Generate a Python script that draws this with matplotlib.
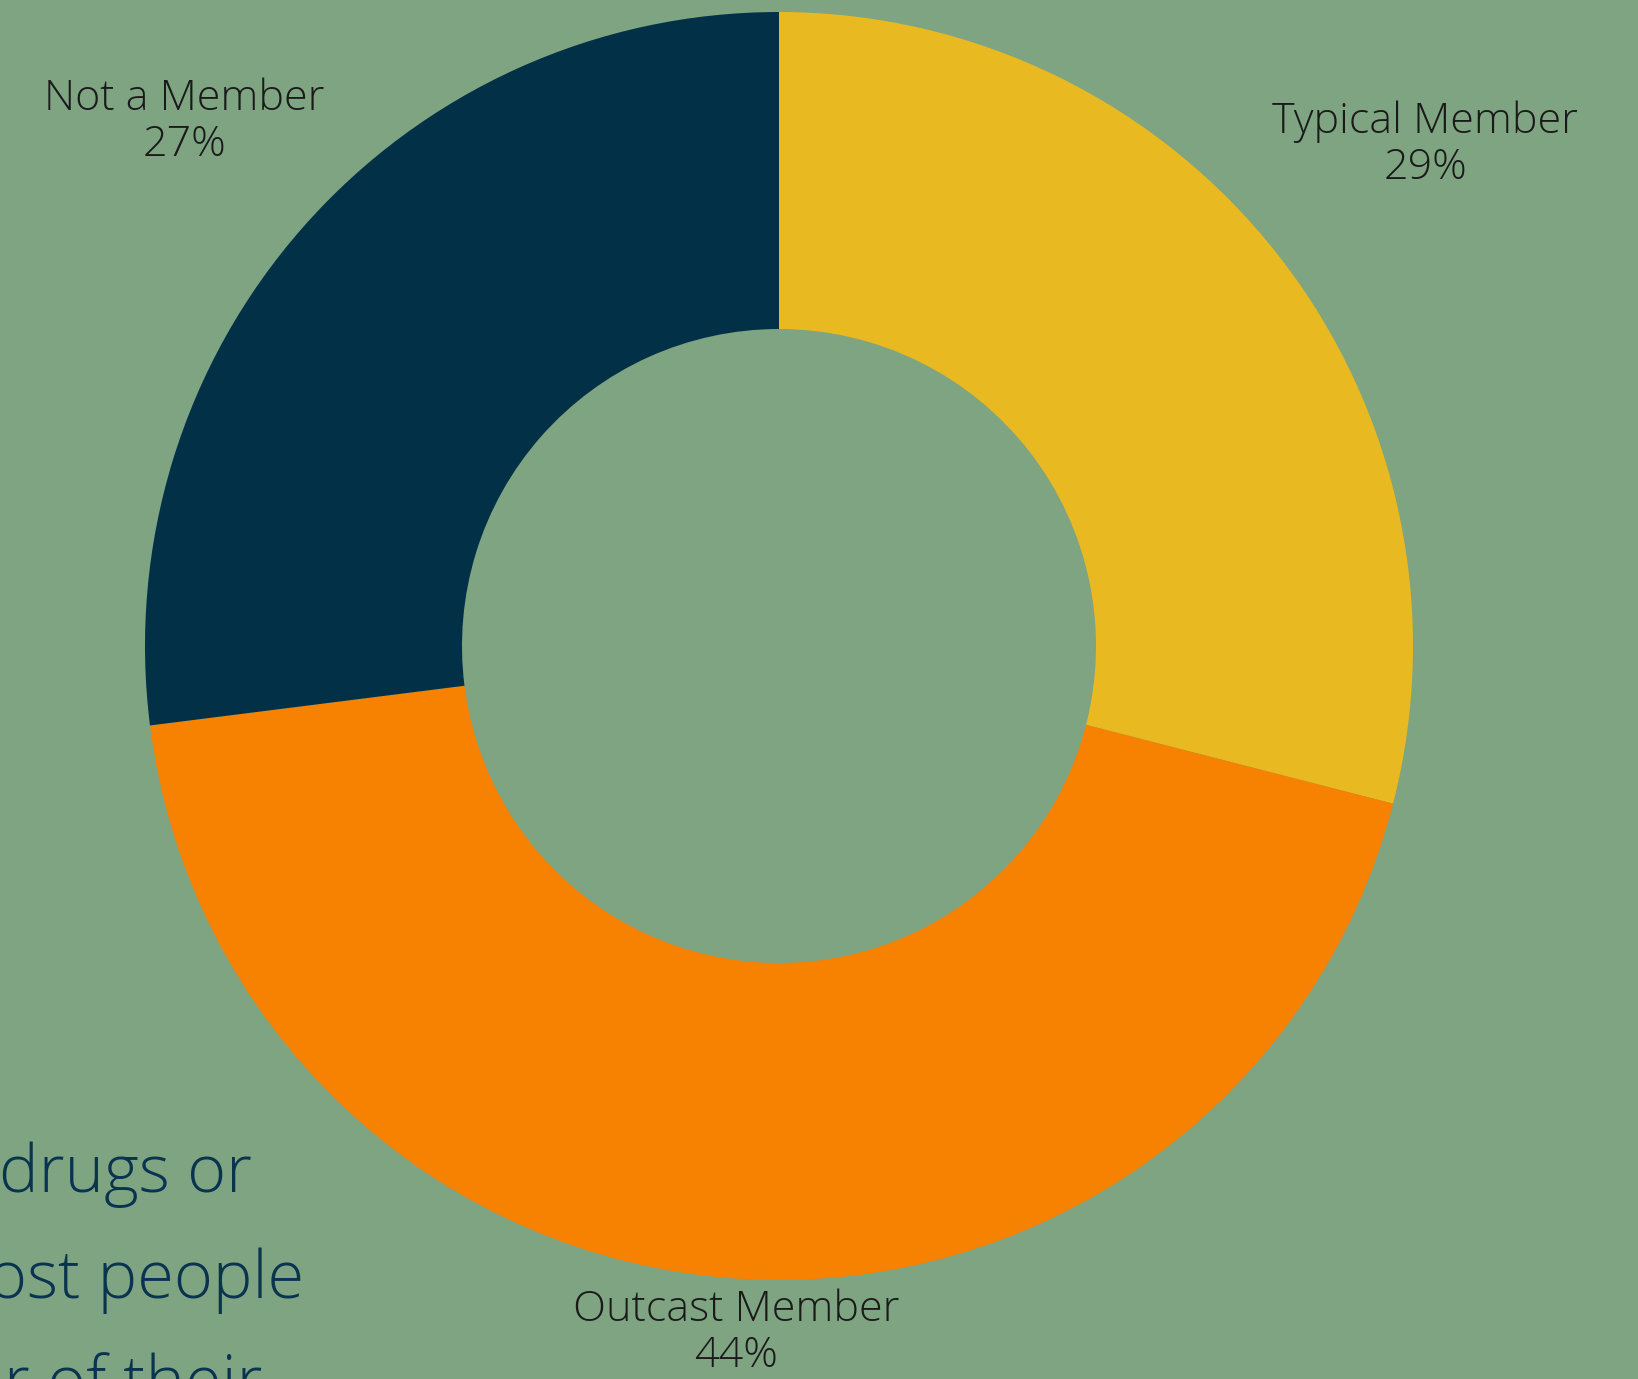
import numpy as np
import matplotlib.pyplot as plt

# dados do gráfico
categorias = ['Typical Member', 'Outcast Member', 'Not a Member']
percentuais = [29, 44, 27]
cores = ['#e8b920', '#f78100', '#023047']
texto_fundo = ['drugs or', 'ost people', 'r of their']

fundo = '#7ea482'
W, H = 1638, 1379
cx, cy, R = 779, 646, 634  # centro e raio em pixels

fig = plt.figure(figsize=(W / 100, H / 100), dpi=100, facecolor=fundo)
ax = fig.add_axes([0, 0, 1, 1])
ax.set_facecolor(fundo)

# texto do slide por trás do gráfico (cortado à esquerda)
for i, linha in enumerate(texto_fundo):
    fig.text([252, 304, 262][i] / W, 1 - (1192 + 106 * i) / H, linha,
             ha='right', va='baseline', fontsize=48, color='#0a3350',
             family='Open Sans', fontweight='light', zorder=0)

wedges, _ = ax.pie(percentuais, colors=cores, startangle=90, counterclock=False,
                   radius=1, wedgeprops=dict(width=0.5, edgecolor='none'))

ax.set_xlim(-cx / R, (W - cx) / R)
ax.set_ylim(-(H - cy) / R, cy / R)
ax.set_aspect('equal')
ax.axis('off')

# rótulos no ângulo médio de cada fatia
dist = [1.29, 1.085, 1.25]
for w, nome, p, d in zip(wedges, categorias, percentuais, dist):
    ang = np.deg2rad((w.theta1 + w.theta2) / 2)
    ax.text(d * np.cos(ang), d * np.sin(ang), f'{nome}\n{p}%', ha='center', va='center',
            fontsize=31, color='#1a1a1a', family='Open Sans', fontweight='light',
            linespacing=1.12)

plt.savefig('out.png', dpi=100, facecolor=fundo)
